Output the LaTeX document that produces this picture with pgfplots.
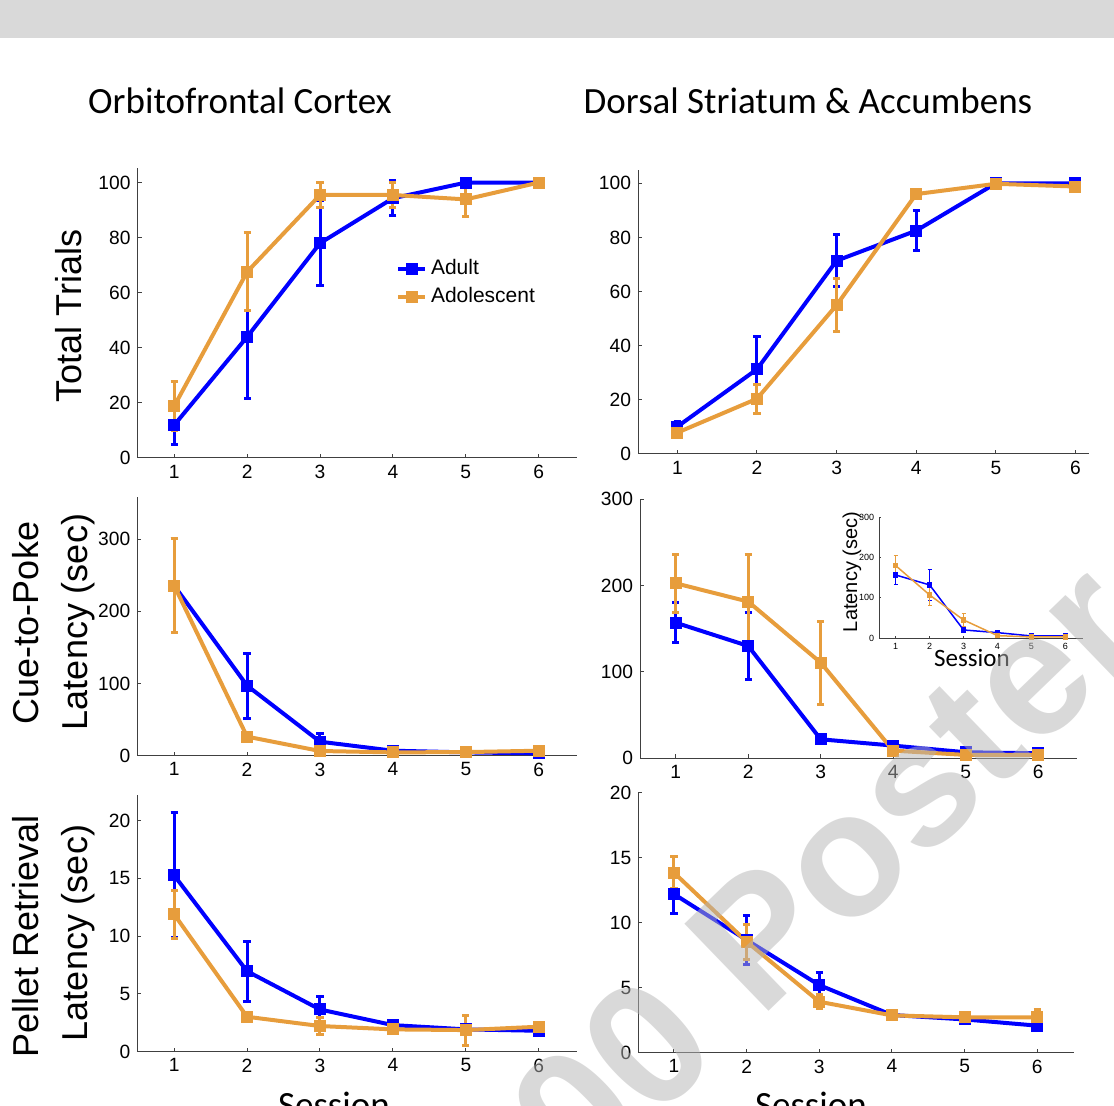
\documentclass[border=0pt]{standalone}
\usepackage{fontspec}
\setmainfont{Liberation Sans}
\newfontfamily\calfont{Carlito}
\usepackage{pgfplots}
\pgfplotsset{compat=1.18}
\definecolor{ablue}{RGB}{0,0,255}
\definecolor{aorange}{RGB}{231,157,60}
\definecolor{band}{RGB}{217,217,217}
\definecolor{wmgray}{RGB}{180,180,180}

\pgfplotsset{
  panel/.style={
    scale only axis, axis lines=left,
    axis line style={-, black!75, line width=0.5pt},
    tick style={black!75, line width=0.5pt},
    major tick length=2pt, tick align=inside,
    xtick={1,...,6}, ymin=0, clip=false,
    /pgf/number format/assume math mode=true,
    tick label style={font=\fontsize{9.6}{11}\selectfont},
  },
  ser/.style={line width=2pt, mark=square*, mark size=2pt, mark options={solid},
    error bars/.cd, y dir=both, y explicit,
    error bar style={line width=1.5pt},
    error mark options={rotate=90, line width=1.5pt, mark size=1.8pt}},
  sersmall/.style={line width=0.75pt, mark=square*, mark size=1pt, mark options={solid},
    error bars/.cd, y dir=both, y explicit,
    error bar style={line width=0.6pt},
    error mark options={rotate=90, line width=0.6pt, mark size=1pt}},
}

\begin{document}
\begin{tikzpicture}
\useasboundingbox (0,0) rectangle (557pt,-553pt);
\clip (0,0) rectangle (557pt,-553pt);
\fill[band] (0,0) rectangle (557pt,-19pt);

% row 1: total trials
\begin{axis}[panel, at={(68.75pt,-229pt)}, anchor=south west,
  width=219.5pt, height=145pt, xmin=0.495, xmax=6.52, ymax=105.3,
  ytick={0,20,...,100},
  legend style={draw=none, fill=none, at={(0.588,0.70)}, anchor=north west,
    font=\fontsize{10.5}{12}\selectfont, row sep=1pt, inner sep=0pt},
  legend cell align=left,
  legend image code/.code={\draw[#1, mark repeat=2, mark phase=2] plot coordinates {(0pt,0pt) (6.75pt,0pt) (13.5pt,0pt)};}]
\addplot[ablue, ser] coordinates {(1,12) +- (0,7) (2,44) +- (0,22.5) (3,78) +- (0,15.5) (4,94.3) +- (0,6.4) (5,100) +- (0,0.5) (6,100) +- (0,0)};
\addplot[aorange, ser] coordinates {(1,18.9) +- (0,9) (2,67.6) +- (0,14.2) (3,95.5) +- (0,4.5) (4,95.5) +- (0,4.5) (5,93.9) +- (0,6.2) (6,100) +- (0,0)};
\legend{Adult, Adolescent}
\end{axis}

\begin{axis}[panel, at={(319pt,-227pt)}, anchor=south west,
  width=225.5pt, height=142pt, xmin=0.506, xmax=6.17, ymax=104.9,
  ytick={0,20,...,100}]
\addplot[ablue, ser] coordinates {(1,10.1) +- (0,2) (2,31.3) +- (0,12) (3,71.4) +- (0,9.5) (4,82.5) +- (0,7.5) (5,100) +- (0,0.5) (6,100) +- (0,0.5)};
\addplot[aorange, ser] coordinates {(1,7.9) +- (0,1.5) (2,20.4) +- (0,5.3) (3,55) +- (0,9.7) (4,96) +- (0,1.5) (5,99.8) +- (0,0.5) (6,98.8) +- (0,0.8)};
\end{axis}

% row 2: cue-to-poke latency
\begin{axis}[panel, at={(68.65pt,-377.85pt)}, anchor=south west,
  width=219.7pt, height=129.2pt, xmin=0.495, xmax=6.52, ymax=358,
  ytick={0,100,200,300}]
\addplot[ablue, ser] coordinates {(1,235.8) +- (0,65) (2,97.1) +- (0,45) (3,19.4) +- (0,11) (4,6.9) +- (0,2) (5,4.6) +- (0,1) (6,3.2) +- (0,1)};
\addplot[aorange, ser] coordinates {(1,235.8) +- (0,65) (2,26.4) +- (0,6) (3,6.5) +- (0,2) (4,4.6) +- (0,1) (5,5) +- (0,1) (6,6.9) +- (0,1.5)};
\end{axis}

\begin{axis}[panel, at={(320pt,-379.15pt)}, anchor=south west,
  width=218.35pt, height=129.5pt, xmin=0.508, xmax=6.53, ymax=300,
  ytick={0,100,200,300}]
\addplot[ablue, ser] coordinates {(1,157.1) +- (0,23.5) (2,130.1) +- (0,38.7) (3,22) +- (0,4) (4,14.7) +- (0,3) (5,7) +- (0,1) (6,5.8) +- (0,1)};
\addplot[aorange, ser] coordinates {(1,202.7) +- (0,33.5) (2,181.5) +- (0,55) (3,110.8) +- (0,48) (4,8.9) +- (0,2) (5,3.9) +- (0,1) (6,3.9) +- (0,1)};
\end{axis}

% inset
\begin{axis}[panel, at={(439.65pt,-319.15pt)}, anchor=south west,
  width=102pt, height=60.65pt, xmin=0.516, xmax=6.53, ymax=300,
  ytick={0,100,200,300}, major tick length=1pt,
  axis line style={-, black!75, line width=0.4pt},
  tick label style={font=\fontsize{4.5}{5}\selectfont},
  xticklabel style={yshift=1pt}, yticklabel style={xshift=1pt}]
\addplot[ablue, sersmall] coordinates {(1,156.6) +- (0,23) (2,131.9) +- (0,38) (3,20.6) +- (0,3) (4,14) +- (0,2) (5,5.8) +- (0,1) (6,5.8) +- (0,1)};
\addplot[aorange, sersmall] coordinates {(1,179.7) +- (0,25) (2,107.1) +- (0,25) (3,45.3) +- (0,15.5) (4,6.6) +- (0,1) (5,3.3) +- (0,1) (6,3.3) +- (0,1)};
\end{axis}

% row 3: pellet retrieval latency
\begin{axis}[panel, at={(68.65pt,-525.85pt)}, anchor=south west,
  width=219.7pt, height=128.35pt, xmin=0.495, xmax=6.52, ymax=22.2,
  ytick={0,5,...,20}]
\addplot[ablue, ser] coordinates {(1,15.25) +- (0,5.4) (2,6.96) +- (0,2.6) (3,3.65) +- (0,1.1) (4,2.3) +- (0,0.2) (5,1.93) +- (0,0.2) (6,1.81) +- (0,0.2)};
\addplot[aorange, ser] coordinates {(1,11.88) +- (0,2.1) (2,3.02) +- (0,0.1) (3,2.22) +- (0,0.7) (4,1.93) +- (0,0.2) (5,1.87) +- (0,1.3) (6,2.16) +- (0,0.3)};
\end{axis}

\begin{axis}[panel, at={(319.15pt,-526.35pt)}, anchor=south west,
  width=218pt, height=130pt, xmin=0.509, xmax=6.51, ymax=20,
  ytick={0,5,...,20}]
\addplot[ablue, ser] coordinates {(1,12.2) +- (0,1.5) (2,8.67) +- (0,1.85) (3,5.2) +- (0,0.95) (4,2.9) +- (0,0.15) (5,2.56) +- (0,0.2) (6,2.08) +- (0,0.3)};
\addplot[aorange, ser] coordinates {(1,13.85) +- (0,1.23) (2,8.54) +- (0,1.35) (3,3.92) +- (0,0.55) (4,2.87) +- (0,0.1) (5,2.72) +- (0,0.25) (6,2.72) +- (0,0.6)};
\end{axis}

% titles and labels
\node[anchor=base, font=\calfont\fontsize{18.5}{20}\selectfont] at (120pt,-57pt) {Orbitofrontal Cortex};
\node[anchor=base, font=\calfont\fontsize{18.5}{20}\selectfont] at (404pt,-57pt) {Dorsal Striatum \& Accumbens};
\node[rotate=90, anchor=base, font=\fontsize{18}{20}\selectfont] at (40.5pt,-158pt) {Total Trials};
\node[rotate=90, anchor=base, font=\fontsize{18}{20}\selectfont] at (19.5pt,-311.5pt) {Cue-to-Poke};
\node[rotate=90, anchor=base, font=\fontsize{18}{20}\selectfont] at (43.5pt,-311pt) {Latency (sec)};
\node[rotate=90, anchor=base, font=\fontsize{18}{20}\selectfont] at (19.5pt,-468pt) {Pellet Retrieval};
\node[rotate=90, anchor=base, font=\fontsize{18}{20}\selectfont] at (43.5pt,-466.5pt) {Latency (sec)};
\node[anchor=base, font=\calfont\fontsize{18.5}{20}\selectfont] at (167pt,-558.5pt) {Session};
\node[anchor=base, font=\calfont\fontsize{18.5}{20}\selectfont] at (405.5pt,-558.5pt) {Session};
\node[rotate=90, anchor=base, font=\fontsize{10}{11}\selectfont] at (428.5pt,-286pt) {Latency (sec)};
\node[anchor=base, font=\calfont\fontsize{12.5}{13}\selectfont] at (486pt,-333.5pt) {Session};

% watermark
\node[rotate=44, anchor=base west, inner sep=0pt, text=wmgray, opacity=0.5,
  font=\bfseries\fontsize{88}{88}\selectfont] at (380pt,-510pt) {Poster};
\node[rotate=44, anchor=base east, inner sep=0pt, text=wmgray, opacity=0.5,
  font=\bfseries\fontsize{88}{88}\selectfont] at (362pt,-527pt) {00};
\end{tikzpicture}
\end{document}
